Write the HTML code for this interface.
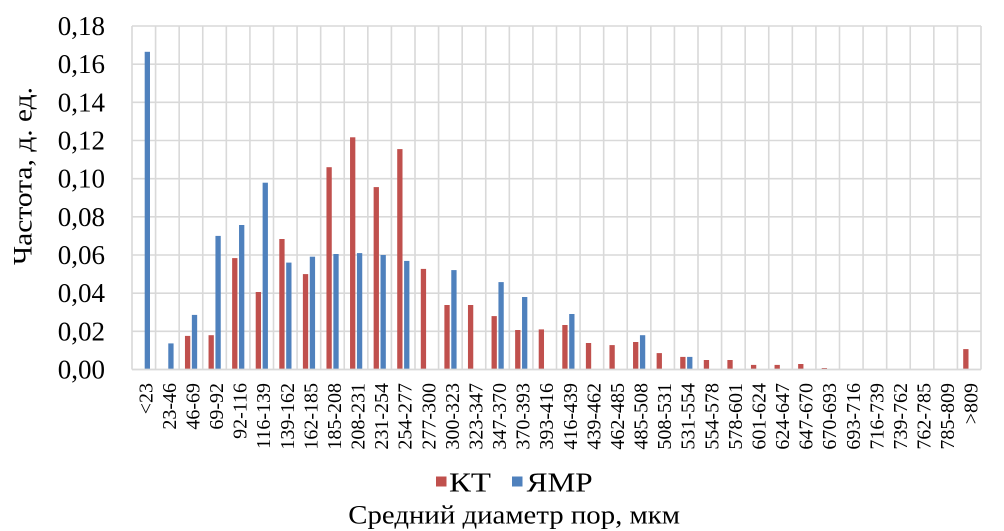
<!DOCTYPE html>
<html><head><meta charset="utf-8"><style>
html,body{margin:0;padding:0;background:#fff;}
svg{display:block;}
text{font-family:"Liberation Serif","Noto Serif CJK SC",serif;fill:#000;}
</style></head><body>
<svg width="1004" height="531" viewBox="0 0 1004 531" xmlns="http://www.w3.org/2000/svg">
<rect width="1004" height="531" fill="#fff"/>
<g stroke="#d9d9d9" stroke-width="1.6">
<line x1="132" y1="26" x2="981" y2="26"/>
<line x1="132" y1="64.17" x2="981" y2="64.17"/>
<line x1="132" y1="102.33" x2="981" y2="102.33"/>
<line x1="132" y1="140.5" x2="981" y2="140.5"/>
<line x1="132" y1="178.67" x2="981" y2="178.67"/>
<line x1="132" y1="216.83" x2="981" y2="216.83"/>
<line x1="132" y1="255" x2="981" y2="255"/>
<line x1="132" y1="293.17" x2="981" y2="293.17"/>
<line x1="132" y1="331.33" x2="981" y2="331.33"/>
<line x1="132" y1="26" x2="132" y2="369.5"/>
<line x1="155.58" y1="26" x2="155.58" y2="369.5"/>
<line x1="179.17" y1="26" x2="179.17" y2="369.5"/>
<line x1="202.75" y1="26" x2="202.75" y2="369.5"/>
<line x1="226.33" y1="26" x2="226.33" y2="369.5"/>
<line x1="249.92" y1="26" x2="249.92" y2="369.5"/>
<line x1="273.5" y1="26" x2="273.5" y2="369.5"/>
<line x1="297.08" y1="26" x2="297.08" y2="369.5"/>
<line x1="320.67" y1="26" x2="320.67" y2="369.5"/>
<line x1="344.25" y1="26" x2="344.25" y2="369.5"/>
<line x1="367.83" y1="26" x2="367.83" y2="369.5"/>
<line x1="391.42" y1="26" x2="391.42" y2="369.5"/>
<line x1="415" y1="26" x2="415" y2="369.5"/>
<line x1="438.58" y1="26" x2="438.58" y2="369.5"/>
<line x1="462.17" y1="26" x2="462.17" y2="369.5"/>
<line x1="485.75" y1="26" x2="485.75" y2="369.5"/>
<line x1="509.33" y1="26" x2="509.33" y2="369.5"/>
<line x1="532.92" y1="26" x2="532.92" y2="369.5"/>
<line x1="556.5" y1="26" x2="556.5" y2="369.5"/>
<line x1="580.08" y1="26" x2="580.08" y2="369.5"/>
<line x1="603.67" y1="26" x2="603.67" y2="369.5"/>
<line x1="627.25" y1="26" x2="627.25" y2="369.5"/>
<line x1="650.83" y1="26" x2="650.83" y2="369.5"/>
<line x1="674.42" y1="26" x2="674.42" y2="369.5"/>
<line x1="698" y1="26" x2="698" y2="369.5"/>
<line x1="721.58" y1="26" x2="721.58" y2="369.5"/>
<line x1="745.17" y1="26" x2="745.17" y2="369.5"/>
<line x1="768.75" y1="26" x2="768.75" y2="369.5"/>
<line x1="792.33" y1="26" x2="792.33" y2="369.5"/>
<line x1="815.92" y1="26" x2="815.92" y2="369.5"/>
<line x1="839.5" y1="26" x2="839.5" y2="369.5"/>
<line x1="863.08" y1="26" x2="863.08" y2="369.5"/>
<line x1="886.67" y1="26" x2="886.67" y2="369.5"/>
<line x1="910.25" y1="26" x2="910.25" y2="369.5"/>
<line x1="933.83" y1="26" x2="933.83" y2="369.5"/>
<line x1="957.42" y1="26" x2="957.42" y2="369.5"/>
<line x1="981" y1="26" x2="981" y2="369.5"/>
</g>
<!-- Red bars (КТ) -->
<g fill="#c0504d">
<rect x="184.96" y="335.9" width="5.3" height="33.6"/>
<rect x="208.54" y="335.2" width="5.3" height="34.3"/>
<rect x="232.13" y="258.1" width="5.3" height="111.4"/>
<rect x="255.71" y="292.0" width="5.3" height="77.5"/>
<rect x="279.29" y="239.0" width="5.3" height="130.5"/>
<rect x="302.88" y="274.1" width="5.3" height="95.4"/>
<rect x="326.46" y="167.2" width="5.3" height="202.3"/>
<rect x="350.04" y="137.3" width="5.3" height="232.2"/>
<rect x="373.63" y="187.1" width="5.3" height="182.4"/>
<rect x="397.21" y="149.1" width="5.3" height="220.4"/>
<rect x="420.79" y="268.9" width="5.3" height="100.6"/>
<rect x="444.38" y="305.0" width="5.3" height="64.5"/>
<rect x="467.96" y="305.0" width="5.3" height="64.5"/>
<rect x="491.54" y="316.1" width="5.3" height="53.4"/>
<rect x="515.13" y="330.0" width="5.3" height="39.5"/>
<rect x="538.71" y="329.4" width="5.3" height="40.1"/>
<rect x="562.29" y="325.0" width="5.3" height="44.5"/>
<rect x="585.88" y="343.0" width="5.3" height="26.5"/>
<rect x="609.46" y="345.1" width="5.3" height="24.4"/>
<rect x="633.04" y="342.0" width="5.3" height="27.5"/>
<rect x="656.63" y="353.1" width="5.3" height="16.4"/>
<rect x="680.21" y="356.9" width="5.3" height="12.6"/>
<rect x="703.79" y="360.0" width="5.3" height="9.5"/>
<rect x="727.38" y="360.0" width="5.3" height="9.5"/>
<rect x="750.96" y="364.9" width="5.3" height="4.6"/>
<rect x="774.54" y="364.9" width="5.3" height="4.6"/>
<rect x="798.13" y="364.0" width="5.3" height="5.5"/>
<rect x="821.71" y="368.0" width="5.3" height="1.5"/>
<rect x="963.21" y="349.1" width="5.3" height="20.4"/>
</g>
<!-- Blue bars (ЯМР) -->
<g fill="#4f81bd">
<rect x="144.69" y="51.8" width="5.3" height="317.7"/>
<rect x="168.28" y="343.4" width="5.3" height="26.1"/>
<rect x="191.86" y="314.9" width="5.3" height="54.6"/>
<rect x="215.44" y="235.9" width="5.3" height="133.6"/>
<rect x="239.03" y="225.0" width="5.3" height="144.5"/>
<rect x="262.61" y="182.7" width="5.3" height="186.8"/>
<rect x="286.19" y="262.6" width="5.3" height="106.9"/>
<rect x="309.78" y="256.7" width="5.3" height="112.8"/>
<rect x="333.36" y="254.0" width="5.3" height="115.5"/>
<rect x="356.94" y="253.1" width="5.3" height="116.4"/>
<rect x="380.53" y="255.0" width="5.3" height="114.5"/>
<rect x="404.11" y="260.9" width="5.3" height="108.6"/>
<rect x="451.28" y="270.1" width="5.3" height="99.4"/>
<rect x="498.44" y="282.1" width="5.3" height="87.4"/>
<rect x="522.03" y="297.0" width="5.3" height="72.5"/>
<rect x="569.19" y="314.0" width="5.3" height="55.5"/>
<rect x="639.94" y="335.2" width="5.3" height="34.3"/>
<rect x="687.11" y="356.9" width="5.3" height="12.6"/>
</g>
<line x1="132" y1="369.5" x2="981" y2="369.5" stroke="#d9d9d9" stroke-width="1.8"/>
<!-- Y tick labels -->
<g font-size="27" text-anchor="end">
<text x="105" y="35">0,18</text>
<text x="105" y="73.17">0,16</text>
<text x="105" y="111.33">0,14</text>
<text x="105" y="149.5">0,12</text>
<text x="105" y="187.67">0,10</text>
<text x="105" y="225.83">0,08</text>
<text x="105" y="264">0,06</text>
<text x="105" y="302.17">0,04</text>
<text x="105" y="340.33">0,02</text>
<text x="105" y="378.5">0,00</text>
</g>
<!-- X tick labels -->
<g font-size="20" text-anchor="end">
<text transform="translate(152.3,383) rotate(-90)">&lt;23</text>
<text transform="translate(175.9,383) rotate(-90)">23-46</text>
<text transform="translate(199.5,383) rotate(-90)">46-69</text>
<text transform="translate(223.0,383) rotate(-90)">69-92</text>
<text transform="translate(246.6,383) rotate(-90)">92-116</text>
<text transform="translate(270.2,383) rotate(-90)">116-139</text>
<text transform="translate(293.8,383) rotate(-90)">139-162</text>
<text transform="translate(317.4,383) rotate(-90)">162-185</text>
<text transform="translate(341.0,383) rotate(-90)">185-208</text>
<text transform="translate(364.5,383) rotate(-90)">208-231</text>
<text transform="translate(388.1,383) rotate(-90)">231-254</text>
<text transform="translate(411.7,383) rotate(-90)">254-277</text>
<text transform="translate(435.3,383) rotate(-90)">277-300</text>
<text transform="translate(458.9,383) rotate(-90)">300-323</text>
<text transform="translate(482.5,383) rotate(-90)">323-347</text>
<text transform="translate(506.0,383) rotate(-90)">347-370</text>
<text transform="translate(529.6,383) rotate(-90)">370-393</text>
<text transform="translate(553.2,383) rotate(-90)">393-416</text>
<text transform="translate(576.8,383) rotate(-90)">416-439</text>
<text transform="translate(600.4,383) rotate(-90)">439-462</text>
<text transform="translate(624.0,383) rotate(-90)">462-485</text>
<text transform="translate(647.5,383) rotate(-90)">485-508</text>
<text transform="translate(671.1,383) rotate(-90)">508-531</text>
<text transform="translate(694.7,383) rotate(-90)">531-554</text>
<text transform="translate(718.3,383) rotate(-90)">554-578</text>
<text transform="translate(741.9,383) rotate(-90)">578-601</text>
<text transform="translate(765.5,383) rotate(-90)">601-624</text>
<text transform="translate(789.0,383) rotate(-90)">624-647</text>
<text transform="translate(812.6,383) rotate(-90)">647-670</text>
<text transform="translate(836.2,383) rotate(-90)">670-693</text>
<text transform="translate(859.8,383) rotate(-90)">693-716</text>
<text transform="translate(883.4,383) rotate(-90)">716-739</text>
<text transform="translate(907.0,383) rotate(-90)">739-762</text>
<text transform="translate(930.5,383) rotate(-90)">762-785</text>
<text transform="translate(954.1,383) rotate(-90)">785-809</text>
<text transform="translate(977.7,383) rotate(-90)">&gt;809</text>
</g>
<!-- Y axis title -->
<text font-size="26" text-anchor="middle" transform="translate(31.5,176) rotate(-90)" textLength="178" lengthAdjust="spacingAndGlyphs">Частота,  д. ед.</text>
<!-- Legend -->
<rect x="436" y="476.5" width="10.5" height="10" fill="#c0504d"/>
<text x="449" y="491.7" font-size="27" textLength="42" lengthAdjust="spacingAndGlyphs">КТ</text>
<rect x="512" y="476.5" width="10.5" height="10" fill="#4f81bd"/>
<text x="526.7" y="491.7" font-size="27" textLength="66" lengthAdjust="spacingAndGlyphs">ЯМР</text>
<!-- X axis title -->
<text x="348.3" y="523.3" font-size="26" textLength="331.7" lengthAdjust="spacingAndGlyphs">Средний диаметр пор, мкм</text>
</svg>
</body></html>
